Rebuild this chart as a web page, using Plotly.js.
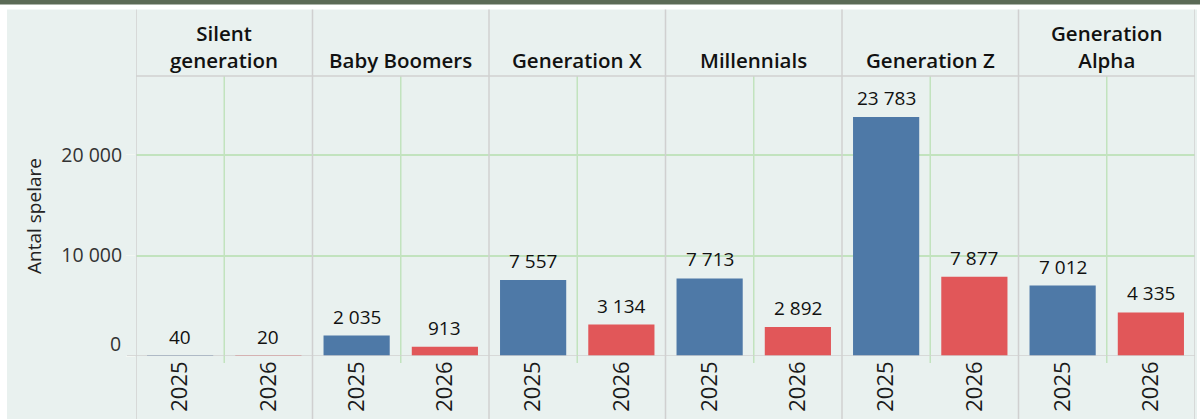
<!DOCTYPE html>
<html>
<head>
<meta charset="utf-8">
<script src="https://cdn.plot.ly/plotly-3.0.1.min.js"></script>
<style>
  html, body { margin: 0; padding: 0; background: #ffffff; }
  #plot { width: 1200px; height: 419px; }
</style>
</head>
<body>
<div id="plot"></div>
<script>
let generations = ['Silent<br>generation', 'Baby Boomers', 'Generation X', 'Millennials', 'Generation Z', 'Generation<br>Alpha'];
let years = ['2025', '2026'];
let players2025 = [40, 2035, 7557, 7713, 23783, 7012];
let players2026 = [20, 913, 3134, 2892, 7877, 4335];
let yTicks = [0, 10000, 20000];

// plot area in pixels
let L = 136, R = 5, T = 76, B = 63;
let W = 1200 - L - R, H = 419 - T - B;
function px(x) { return (x - L) / W; }
function py(y) { return (419 - B - y) / H; }

function fmt(v) {
    return String(v).replace(/\B(?=(\d{3})+(?!\d))/g, ' ');
}

let x2025 = [], x2026 = [], tickvals = [], ticktext = [];
for (let i = 0; i < generations.length; i++) {
    x2025.push(i * 2);
    x2026.push(i * 2 + 1);
    tickvals.push(i * 2, i * 2 + 1);
    ticktext.push(years[0], years[1]);
}

let trace2025 = {
    x: x2025,
    y: players2025,
    type: 'bar',
    name: '2025',
    width: 0.75,
    marker: {color: '#4e79a7', line: {width: 0}},
    hoverinfo: 'y'
};

let trace2026 = {
    x: x2026,
    y: players2026,
    type: 'bar',
    name: '2026',
    width: 0.75,
    marker: {color: '#e15759', line: {width: 0}},
    hoverinfo: 'y'
};

let shapes = [];
// white frame and dark band on top
shapes.push({type: 'rect', xref: 'paper', yref: 'paper', x0: px(-1), x1: px(7), y0: py(420), y1: py(-1), fillcolor: '#ffffff', line: {width: 0}, layer: 'below'});
shapes.push({type: 'rect', xref: 'paper', yref: 'paper', x0: px(1197), x1: px(1201), y0: py(420), y1: py(-1), fillcolor: '#ffffff', line: {width: 0}, layer: 'below'});
shapes.push({type: 'rect', xref: 'paper', yref: 'paper', x0: px(-1), x1: px(1201), y0: py(9.5), y1: py(-1), fillcolor: '#ffffff', line: {width: 0}, layer: 'below'});
shapes.push({type: 'rect', xref: 'paper', yref: 'paper', x0: px(-1), x1: px(1201), y0: py(4.5), y1: py(-1), fillcolor: '#5b6a56', line: {width: 0}, layer: 'below'});

// green gridline between the two years of each generation
for (let i = 0; i < generations.length; i++) {
    shapes.push({type: 'line', xref: 'x', yref: 'paper', x0: i * 2 + 0.5, x1: i * 2 + 0.5, y0: py(363), y1: 1,
        line: {color: '#c2e3be', width: 1.5}, layer: 'below'});
}
// gray separators between generations
for (let i = 0; i <= generations.length; i++) {
    shapes.push({type: 'line', xref: 'x', yref: 'paper', x0: i * 2 - 0.5, x1: i * 2 - 0.5, y0: py(420), y1: py(9.5),
        line: {color: '#d0d0d0', width: 1.5}, layer: 'above'});
}
// header line and zero line on top of the bars
shapes.push({type: 'line', xref: 'paper', yref: 'paper', x0: 0, x1: 1, y0: 1, y1: 1, line: {color: '#d0d0d0', width: 1.5}});
shapes.push({type: 'line', xref: 'paper', yref: 'y', x0: px(127), x1: 1, y0: 0, y1: 0, line: {color: '#d0d0d0', width: 1.5}, layer: 'above'});

let annotations = [];
for (let i = 0; i < generations.length; i++) {
    annotations.push({
        x: i * 2 + 0.5, xref: 'x', y: 1, yref: 'paper', yanchor: 'bottom', yshift: 0,
        text: generations[i], showarrow: false,
        font: {family: 'Open Sans, sans-serif', size: 20.5, color: '#111111', weight: 600}
    });
}
// value labels above the bars
let labelFont = {family: 'Open Sans, sans-serif', size: 19, color: '#111111'};
for (let i = 0; i < generations.length; i++) {
    annotations.push({x: x2025[i], y: players2025[i], xref: 'x', yref: 'y', yanchor: 'bottom', yshift: 4,
        text: fmt(players2025[i]), showarrow: false, font: labelFont});
    annotations.push({x: x2026[i], y: players2026[i], xref: 'x', yref: 'y', yanchor: 'bottom', yshift: 4,
        text: fmt(players2026[i]), showarrow: false, font: labelFont});
}
// the 0 label sits a little above its line
let tickFont = {family: 'Open Sans, sans-serif', size: 19.5, color: '#333333'};
annotations.push({x: px(123), xref: 'paper', xanchor: 'right', y: 0, yref: 'y', yshift: 13,
    text: fmt(yTicks[0]), showarrow: false, font: tickFont});

let layout = {
    width: 1200,
    height: 419,
    margin: {l: L, r: R, t: T, b: B, pad: 0},
    paper_bgcolor: '#e9f1ef',
    plot_bgcolor: '#e9f1ef',
    showlegend: false,
    bargap: 0.25,
    xaxis: {
        range: [-0.5, 11.5],
        tickvals: tickvals,
        ticktext: ticktext,
        tickangle: -90,
        tickfont: {family: 'Open Sans, sans-serif', size: 22, color: '#1a1a1a'},
        showgrid: false,
        zeroline: false,
        showline: false,
        ticks: ''
    },
    yaxis: {
        range: [0, 27860],
        tickvals: yTicks,
        ticktext: yTicks.map(function (v) { return v === 0 ? '' : fmt(v); }),
        gridcolor: '#c2e3be',
        gridwidth: 1.5,
        zeroline: false,
        ticks: 'outside',
        ticklen: 9,
        tickcolor: '#f3f7f3',
        tickfont: tickFont,
        title: {text: 'Antal spelare', font: {family: 'Open Sans, sans-serif', size: 19, color: '#222222'}, standoff: 14}
    },
    shapes: shapes,
    annotations: annotations
};

Plotly.newPlot('plot', [trace2025, trace2026], layout, {displayModeBar: false});
</script>
</body>
</html>
